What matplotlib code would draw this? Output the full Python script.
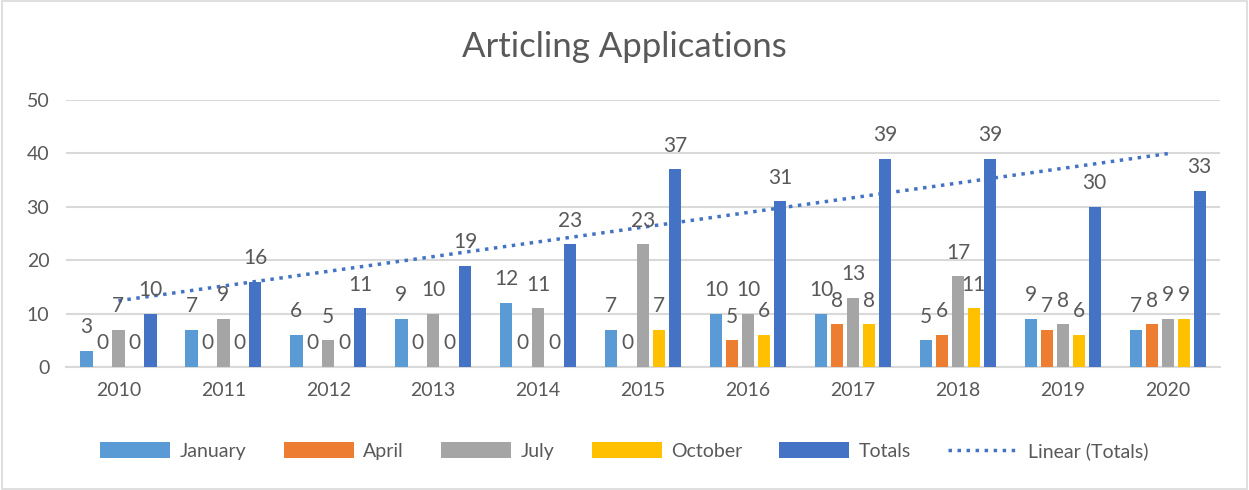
import matplotlib.pyplot as plt
import numpy as np
from matplotlib.patches import Rectangle
from matplotlib.lines import Line2D

plt.rcParams['font.family'] = ['Lato', 'DejaVu Sans']

# Data
years = ["2010", "2011", "2012", "2013", "2014", "2015", "2016", "2017", "2018", "2019", "2020"]
january = [3, 7, 6, 9, 12, 7, 10, 10, 5, 9, 7]
april = [0, 0, 0, 0, 0, 0, 5, 8, 6, 7, 8]
july = [7, 9, 5, 10, 11, 23, 10, 13, 17, 8, 9]
october = [0, 0, 0, 0, 0, 7, 6, 8, 11, 6, 9]
totals = [10, 16, 11, 19, 23, 37, 31, 39, 39, 30, 33]

series = [
    ("January", january, "#5B9BD5"),
    ("April", april, "#ED7D31"),
    ("July", july, "#A5A5A5"),
    ("October", october, "#FFC000"),
    ("Totals", totals, "#4472C4"),
]

text_color = "#595959"
grid_color = "#D9D9D9"

fig = plt.figure(figsize=(12.49, 4.9), dpi=100)
ax = fig.add_axes([0.0528, 0.251, 0.9242, 0.545])

x = np.arange(len(years))
step = 0.152
width = 0.118
handles = []
for i, (name, vals, color) in enumerate(series):
    pos = x + (i - 2) * step
    bars = ax.bar(pos, vals, width=width, color=color, zorder=3)
    handles.append(bars)
    for px, v in zip(pos, vals):
        ax.annotate(str(v), (px, v), xytext=(0, 17), textcoords="offset points",
                    ha="center", va="center", fontsize=15, color=text_color, zorder=5)

# linear trendline of totals
coef = np.polyfit(x, totals, 1)
ax.plot(x, np.polyval(coef, x), color="#4472C4", linestyle=(0, (1, 1.6)),
        linewidth=2.5, zorder=4)

ax.set_xlim(-0.5, len(years) - 0.5)
ax.set_ylim(0, 50)
ax.set_yticks(range(0, 51, 10))
ax.set_xticks(x)
ax.set_xticklabels(years)
ax.tick_params(length=0, labelsize=14, labelcolor=text_color)
ax.tick_params(axis="x", pad=11)
ax.tick_params(axis="y", pad=12)
ax.grid(axis="y", color=grid_color, linewidth=1.5, zorder=0)
for side in ["top", "right", "left"]:
    ax.spines[side].set_visible(False)
ax.spines["bottom"].set_color(grid_color)
ax.spines["bottom"].set_linewidth(1.5)

fig.text(0.5, 0.905, "Articling Applications", ha="center", va="center",
         fontsize=25, color=text_color)

trend_handle = Line2D([], [], color="#4472C4", linestyle=(0, (1, 1.6)), linewidth=2.5)
leg = fig.legend(handles + [trend_handle],
                 ["January", "April", "July", "October", "Totals", "Linear (Totals)"],
                 loc="center", bbox_to_anchor=(0.5, 1 - 451 / 490), ncol=6,
                 frameon=False, fontsize=14, handlelength=3.6, handleheight=0.9,
                 columnspacing=1.9, handletextpad=0.5)
for t in leg.get_texts():
    t.set_color(text_color)

# chart border
fig.patches.append(Rectangle((0.002, 0.003), 0.996, 0.994, transform=fig.transFigure,
                             fill=False, edgecolor=grid_color, linewidth=1.2))

fig.savefig("out.png", dpi=100, facecolor="white")
